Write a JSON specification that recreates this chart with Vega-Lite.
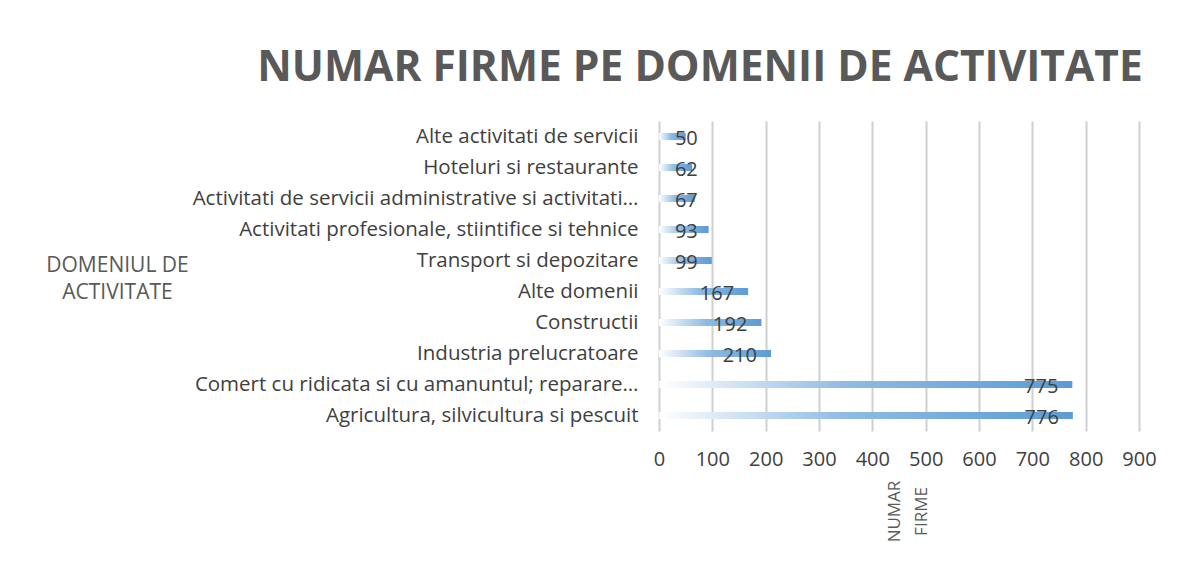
{
  "$schema": "https://vega.github.io/schema/vega-lite/v6.json",
  "autosize": "none",
  "width": 480,
  "height": 310,
  "padding": {"left": 659, "top": 121, "right": 48, "bottom": 152},
  "background": "white",
  "title": {
    "text": "NUMAR FIRME PE DOMENII DE ACTIVITATE",
    "font": "Open Sans",
    "fontSize": 42.5,
    "fontWeight": "bold",
    "color": "#595959",
    "anchor": "middle",
    "dx": -199,
    "offset": -2,
    "baseline": "alphabetic"
  },
  "data": {
    "values": [
      {"domeniu": "Alte activitati de servicii", "firme": 50},
      {"domeniu": "Hoteluri si restaurante", "firme": 62},
      {"domeniu": "Activitati de servicii administrative si activitati de servicii suport", "firme": 67},
      {"domeniu": "Activitati profesionale, stiintifice si tehnice", "firme": 93},
      {"domeniu": "Transport si depozitare", "firme": 99},
      {"domeniu": "Alte domenii", "firme": 167},
      {"domeniu": "Constructii", "firme": 192},
      {"domeniu": "Industria prelucratoare", "firme": 210},
      {"domeniu": "Comert cu ridicata si cu amanuntul; repararea autovehiculelor", "firme": 775},
      {"domeniu": "Agricultura, silvicultura si pescuit", "firme": 776}
    ]
  },
  "encoding": {
    "y": {
      "field": "domeniu",
      "type": "nominal",
      "sort": null,
      "scale": {"paddingInner": 0.77, "paddingOuter": 0.385},
      "axis": {
        "title": ["DOMENIUL DE", "ACTIVITATE"],
        "titleAngle": 0,
        "titleX": -542,
        "titleY": 144,
        "titleAlign": "center",
        "titleBaseline": "middle",
        "titleLineHeight": 27,
        "titleFont": "Open Sans",
        "titleFontSize": 21,
        "titleFontWeight": "normal",
        "titleColor": "#595959",
        "labelFont": "Open Sans",
        "labelFontSize": 20.5,
        "labelColor": "#404040",
        "labelPadding": 21,
        "labelLimit": 449,
        "ticks": false,
        "domain": false,
        "grid": false
      }
    }
  },
  "layer": [
    {
      "mark": {
        "type": "bar",
        "fill": {
          "gradient": "linear",
          "x1": 0, "y1": 0, "x2": 1, "y2": 0,
          "stops": [
            {"offset": 0, "color": "#ffffff"},
            {"offset": 0.45, "color": "#8fbbe4"},
            {"offset": 1, "color": "#5b9bd5"}
          ]
        }
      },
      "encoding": {
        "x": {
          "field": "firme",
          "type": "quantitative",
          "scale": {"domain": [0, 900], "nice": false},
          "axis": {
            "values": [0, 100, 200, 300, 400, 500, 600, 700, 800, 900],
            "labelFlush": false,
            "labelOverlap": false,
            "title": ["NUMAR", "FIRME"],
            "titleAngle": 270,
            "titleX": 235,
            "titleY": 80,
            "titleAlign": "center",
            "titleBaseline": "middle",
            "titleLineHeight": 27,
            "titleFont": "Open Sans",
            "titleFontSize": 17,
            "titleFontWeight": "normal",
            "titleColor": "#595959",
            "labelFont": "Open Sans",
            "labelFontSize": 20,
            "labelColor": "#404040",
            "labelPadding": 18,
            "labelAlign": "center",
            "ticks": false,
            "domain": false,
            "grid": true,
            "gridColor": "#d0d0d0",
            "gridWidth": 2
          }
        }
      }
    },
    {
      "transform": [{"calculate": "max(datum.firme, 99)", "as": "pos"}],
      "mark": {
        "type": "text",
        "align": "right",
        "baseline": "middle",
        "dx": -14,
        "dy": 2,
        "font": "Open Sans",
        "fontSize": 20,
        "color": "#404040"
      },
      "encoding": {
        "x": {"field": "pos", "type": "quantitative"},
        "text": {"field": "firme", "type": "quantitative"}
      }
    }
  ],
  "config": {"view": {"stroke": null}}
}
